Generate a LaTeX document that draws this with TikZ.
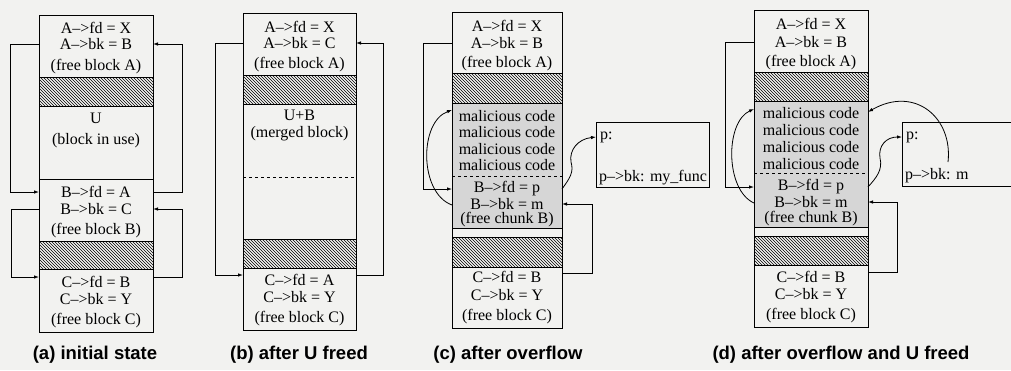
\documentclass[tikz,border=0pt]{standalone}
\usepackage{fontspec}
\setmainfont{Liberation Serif}
\newfontfamily\capfont{Liberation Sans}
\usetikzlibrary{patterns,arrows.meta}

\definecolor{paper}{RGB}{242,242,240}
\definecolor{malgray}{RGB}{214,214,214}

\tikzset{
  >={Latex[length=5pt,width=3.5pt]},
  box/.style={draw, line width=0.8pt, inner sep=0pt, outer sep=0pt},
  hatchbox/.style={box, pattern=north west lines},
  malbox/.style={box, fill=malgray},
  row/.style={inner sep=0pt, font=\fontsize{16}{18}\selectfont},
  caption/.style={inner sep=0pt, font=\capfont\bfseries\fontsize{18.5}{20}\selectfont},
  link/.style={line width=0.8pt}
}

\begin{document}
\begin{tikzpicture}[x=1pt,y=-1pt]
\useasboundingbox[fill=paper] (0,0) rectangle (1011,370);

% (a) initial state
\node[box, minimum width=114pt, minimum height=62pt] (aA) at (96,46) {};
\node[hatchbox, minimum width=114pt, minimum height=29pt] (aH1) at (96,91.5) {};
\node[box, minimum width=114pt, minimum height=73pt] (aU) at (96,142.5) {};
\node[box, minimum width=114pt, minimum height=62pt] (aB) at (96,210) {};
\node[hatchbox, minimum width=114pt, minimum height=28pt] (aH2) at (96,255) {};
\node[box, minimum width=114pt, minimum height=63pt] (aC) at (96,300.5) {};
\path (96,28) node[row] (aAfd) {A-->fd = X};
\path (96,44) node[row] (aAbk) {A-->bk = B};
\path (96,67) node[row] (aAl) {(free block A)};
\path (96,118) node[row] (aUn) {U};
\path (96,141) node[row] (aUl) {(block in use)};
\path (96,192) node[row] (aBfd) {B-->fd = A};
\path (96,209) node[row] (aBbk) {B-->bk = C};
\path (96,231) node[row] (aBl) {(free block B)};
\path (96,282) node[row] (aCfd) {C-->fd = B};
\path (96,299) node[row] (aCbk) {C-->bk = Y};
\path (96,321) node[row] (aCl) {(free block C)};
\draw[link,->] (aA.west |- aAbk) -- ++(-29,0) |- (aB.west |- aBfd);
\draw[link,->] (aB.east |- aBfd) -- ++(29,0) |- (aA.east |- aAbk);
\draw[link,->] (aB.west |- aBbk) -- ++(-28,0) |- ([yshift=5pt]aC.west |- aCfd);
\draw[link,->] ([yshift=5pt]aC.east |- aCfd) -- ++(29,0) |- (aB.east |- aBbk);
\path (95,355) node[caption] (capa) {(a) initial state};

% (b) after U freed
\node[box, minimum width=113pt, minimum height=62pt] (bA) at (299.5,44) {};
\node[hatchbox, minimum width=113pt, minimum height=29pt] (bH1) at (299.5,89.5) {};
\node[box, minimum width=113pt, minimum height=135pt] (bM) at (299.5,171.5) {};
\node[hatchbox, minimum width=113pt, minimum height=29pt] (bH2) at (299.5,253.5) {};
\node[box, minimum width=113pt, minimum height=62pt] (bC) at (299.5,299) {};
\draw[dashed, line width=0.6pt] (bM.west |- 0,177) -- (bM.east |- 0,177);
\path (299.5,27) node[row] (bAfd) {A-->fd = X};
\path (299.5,43) node[row] (bAbk) {A-->bk = C};
\path (299.5,65) node[row] (bAl) {(free block A)};
\path (299.5,115) node[row] (bMn) {U+B};
\path (299.5,134) node[row] (bMl) {(merged block)};
\path (299.5,280) node[row] (bCfd) {C-->fd = A};
\path (299.5,297) node[row] (bCbk) {C-->bk = Y};
\path (299.5,319) node[row] (bCl) {(free block C)};
\draw[link,->] (bA.west |- bAbk) -- ++(-28,0) |- ([yshift=5pt]bC.west |- bCfd);
\draw[link,->] ([yshift=5pt]bC.east |- bCfd) -- ++(27,0) |- (bA.east |- bAbk);
\path (299,355) node[caption] (capb) {(b) after U freed};

% (c) after overflow
\node[box, minimum width=110pt, minimum height=61pt] (cA) at (507,42.5) {};
\node[hatchbox, minimum width=110pt, minimum height=30pt] (cH1) at (507,88) {};
\node[malbox, minimum width=110pt, minimum height=125pt] (cMal) at (507,165.5) {};
\node[box, minimum width=110pt, minimum height=9pt] (cS) at (507,232.5) {};
\node[hatchbox, minimum width=110pt, minimum height=30pt] (cH2) at (507,252) {};
\node[box, minimum width=110pt, minimum height=61pt] (cC) at (507,297.5) {};
\draw[dashed, line width=0.6pt] (cMal.west |- 0,176) -- (cMal.east |- 0,176);
\path (507,26) node[row] (cAfd) {A-->fd = X};
\path (507,43) node[row] (cAbk) {A-->bk = B};
\path (507,64) node[row] (cAl) {(free block A)};
\path (507,116) node[row] (cm1) {malicious code};
\path (507,132.5) node[row] (cm2) {malicious code};
\path (507,149) node[row] (cm3) {malicious code};
\path (507,165.5) node[row] (cm4) {malicious code};
\path (507,189) node[row] (cBfd) {B-->fd = p};
\path (507,204) node[row] (cBbk) {B-->bk = m};
\path (507,220) node[row] (cBl) {(free chunk B)};
\path (507,277) node[row] (cCfd) {C-->fd = B};
\path (507,295) node[row] (cCbk) {C-->bk = Y};
\path (507,317) node[row] (cCl) {(free block C)};
\node[box, minimum width=113pt, minimum height=65pt] (cP) at (652.5,154.5) {};
\path ([xshift=4pt]cP.west |- 0,137) node[row, anchor=west] (cPp) {p:};
\path ([xshift=3pt]cP.west |- 0,178) node[row, anchor=west] (cPbk) {p-->bk: my\_func};
\draw[link,->] (cA.west |- cAbk) -- ++(-29,0) |- (cMal.west |- cBfd);
\draw[link,->] (cMal.west |- 0,205) .. controls (419,193) and (419,122) .. ([yshift=-7pt]cMal.north west);
\draw[link,->] (cMal.east |- cBfd) .. controls (570,178) and (574,172) .. (571,162)
  .. controls (569,150) and (578,139) .. (cP.west |- cPp);
\draw[link,->] ([yshift=4pt]cC.east |- cCfd) -- ++(30,0) |- (cMal.east |- cBbk);
\path (508,355) node[caption] (capc) {(c) after overflow};

% (d) after overflow and U freed
\node[box, minimum width=114pt, minimum height=62pt] (dA) at (811,41) {};
\node[hatchbox, minimum width=114pt, minimum height=29pt] (dH1) at (811,86.5) {};
\node[malbox, minimum width=114pt, minimum height=126pt] (dMal) at (811,164) {};
\node[box, minimum width=114pt, minimum height=9pt] (dS) at (811,231.5) {};
\node[hatchbox, minimum width=114pt, minimum height=29pt] (dH2) at (811,250.5) {};
\node[box, minimum width=114pt, minimum height=62pt] (dC) at (811,296) {};
\draw[dashed, line width=0.6pt] (dMal.west |- 0,173) -- (dMal.east |- 0,173);
\path (811,24) node[row] (dAfd) {A-->fd = X};
\path (811,42) node[row] (dAbk) {A-->bk = B};
\path (811,63) node[row] (dAl) {(free block A)};
\path (811,113) node[row] (dm1) {malicious code};
\path (811,130) node[row] (dm2) {malicious code};
\path (811,147) node[row] (dm3) {malicious code};
\path (811,164) node[row] (dm4) {malicious code};
\path (811,187) node[row] (dBfd) {B-->fd = p};
\path (811,202) node[row] (dBbk) {B-->bk = m};
\path (811,219) node[row] (dBl) {(free chunk B)};
\path (811,277) node[row] (dCfd) {C-->fd = B};
\path (811,294) node[row] (dCbk) {C-->bk = Y};
\path (811,316) node[row] (dCl) {(free block C)};
\draw[box] (1012,122) -| (902,186) -- (1012,186);
\path (906,137) node[row, anchor=west] (dPp) {p:};
\path (905,176) node[row, anchor=west] (dPbk) {p-->bk: m};
\coordinate (dq) at (948,162);
\draw[link,->] (dA.west |- dAbk) -- ++(-29,0) |- (dMal.west |- dBfd);
\draw[link,->] (dMal.west |- 0,203) .. controls (725,190) and (725,122) .. ([yshift=-8pt]dMal.north west);
\draw[link,->] (dMal.east |- dBfd) .. controls (876,178) and (883,170) .. (880,158)
  .. controls (878,146) and (886,137) .. ([xshift=-4pt]dPp.west);
\draw[link,->] (dq) .. controls (953,118) and (915,85) .. ([yshift=-11pt]dMal.north east);
\draw[link,->] ([yshift=5pt]dC.east |- dCfd) -- ++(29,0) |- (dMal.east |- dBbk);
\path (841,355) node[caption] (capd) {(d) after overflow and U freed};
\end{tikzpicture}
\end{document}
